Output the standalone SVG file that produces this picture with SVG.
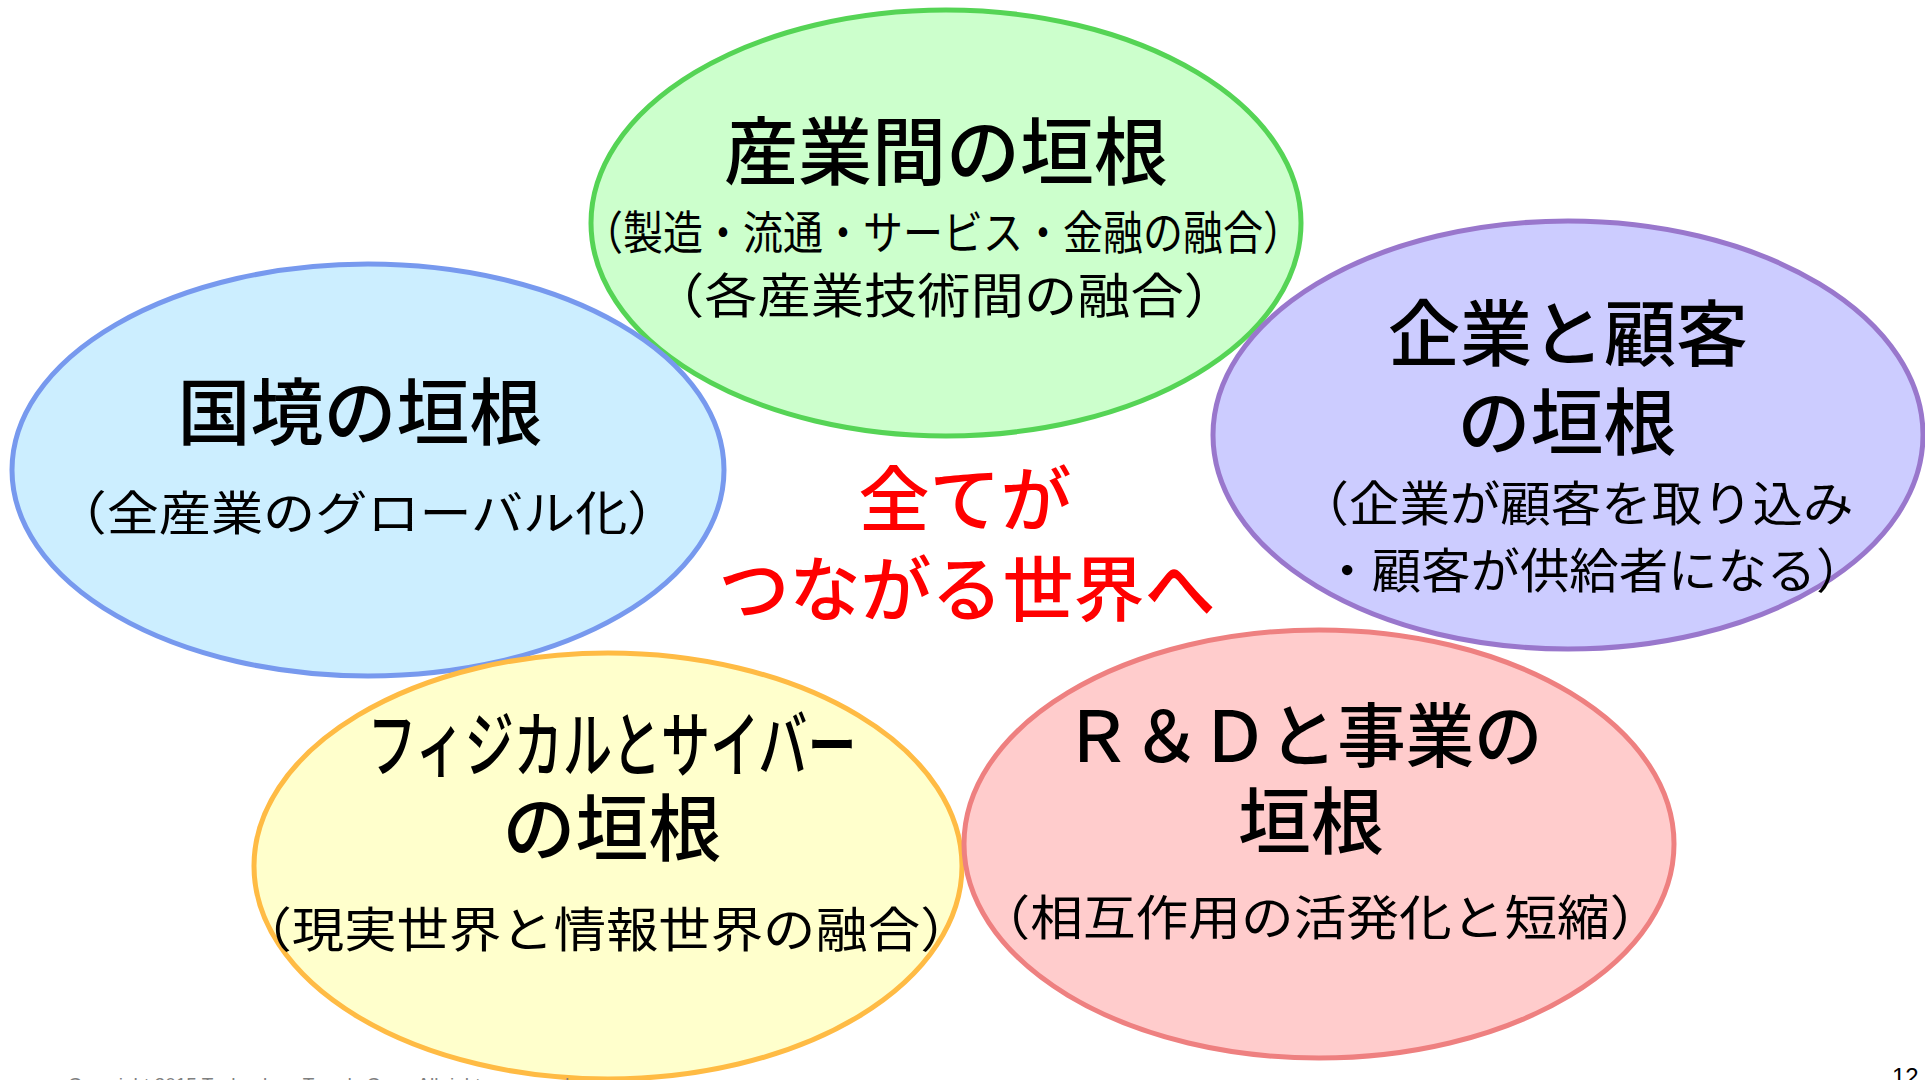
<svg xmlns="http://www.w3.org/2000/svg" width="1925" height="1080" viewBox="0 0 1925 1080">
<style>
.ell{stroke-width:5}
.t{font-family:"Noto Sans CJK JP","Noto Sans CJK SC",sans-serif;text-anchor:middle;fill:#000}
.h{font-weight:500}
.s{font-weight:400}
.red{fill:#ff0000;font-weight:500}
.foot{font-family:"Liberation Sans",Arial,sans-serif;fill:#808080}
</style>
<rect width="1925" height="1080" fill="#ffffff"/>
<g id="node-industry">
<ellipse class="ell" cx="946" cy="223" rx="355" ry="213" fill="#ccffcc" stroke="#55d455"/>
<text class="t h" x="946" y="179" font-size="74">産業間の垣根</text>
<text class="t s" x="943" y="249" font-size="46" textLength="720" lengthAdjust="spacingAndGlyphs">（製造・流通・サービス・金融の融合）</text>
<text class="t s" x="944" y="313" font-size="48" textLength="586" lengthAdjust="spacingAndGlyphs">（各産業技術間の融合）</text>
</g>
<g id="node-border">
<ellipse class="ell" cx="368" cy="470" rx="356" ry="206" fill="#cceeff" stroke="#7799ee"/>
<text class="t h" x="360" y="439" font-size="73">国境の垣根</text>
<text class="t s" x="367" y="530" font-size="47" textLength="625" lengthAdjust="spacingAndGlyphs">（全産業のグローバル化）</text>
</g>
<g id="node-customer">
<ellipse class="ell" cx="1568" cy="435" rx="355" ry="214" fill="#ccccff" stroke="#9977cc"/>
<text class="t h" x="1568" y="360" font-size="72">企業と顧客</text>
<text class="t h" x="1567" y="449" font-size="73">の垣根</text>
<text class="t s" x="1576" y="521" font-size="48" textLength="555" lengthAdjust="spacingAndGlyphs">（企業が顧客を取り込み</text>
<text class="t s" x="1594" y="588" font-size="48" textLength="543" lengthAdjust="spacingAndGlyphs">・顧客が供給者になる）</text>
</g>
<g id="node-cyber">
<ellipse class="ell" cx="608" cy="866" rx="354" ry="213" fill="#ffffcc" stroke="#ffbb44"/>
<text class="t h" x="612" y="771" font-size="72" textLength="489" lengthAdjust="spacingAndGlyphs">フィジカルとサイバー</text>
<text class="t h" x="612" y="855" font-size="73">の垣根</text>
<text class="t s" x="606" y="947" font-size="48" textLength="733" lengthAdjust="spacingAndGlyphs">（現実世界と情報世界の融合）</text>
</g>
<g id="node-rd">
<ellipse class="ell" cx="1319" cy="844" rx="355" ry="214" fill="#ffcccc" stroke="#ee8080"/>
<text class="t h" x="1303" y="762" font-size="70" textLength="479" lengthAdjust="spacingAndGlyphs">Ｒ＆Ｄと事業の</text>
<text class="t h" x="1311" y="848" font-size="73">垣根</text>
<text class="t s" x="1320" y="935" font-size="48" textLength="685" lengthAdjust="spacingAndGlyphs">（相互作用の活発化と短縮）</text>
</g>
<g id="center-label">
<text class="t red" x="965" y="525" font-size="71">全てが</text>
<text class="t red" x="967" y="615" font-size="71">つながる世界へ</text>
</g>
<g id="connectors"/>
<g id="footer">
<text class="foot" x="68" y="1091" font-size="19">Copyright 2015 Technology Trends Corp. All rights reserved.</text>
<text x="1892" y="1085" font-size="24" font-family="Liberation Sans, Arial, sans-serif" fill="#000">12</text>
</g>
</svg>
